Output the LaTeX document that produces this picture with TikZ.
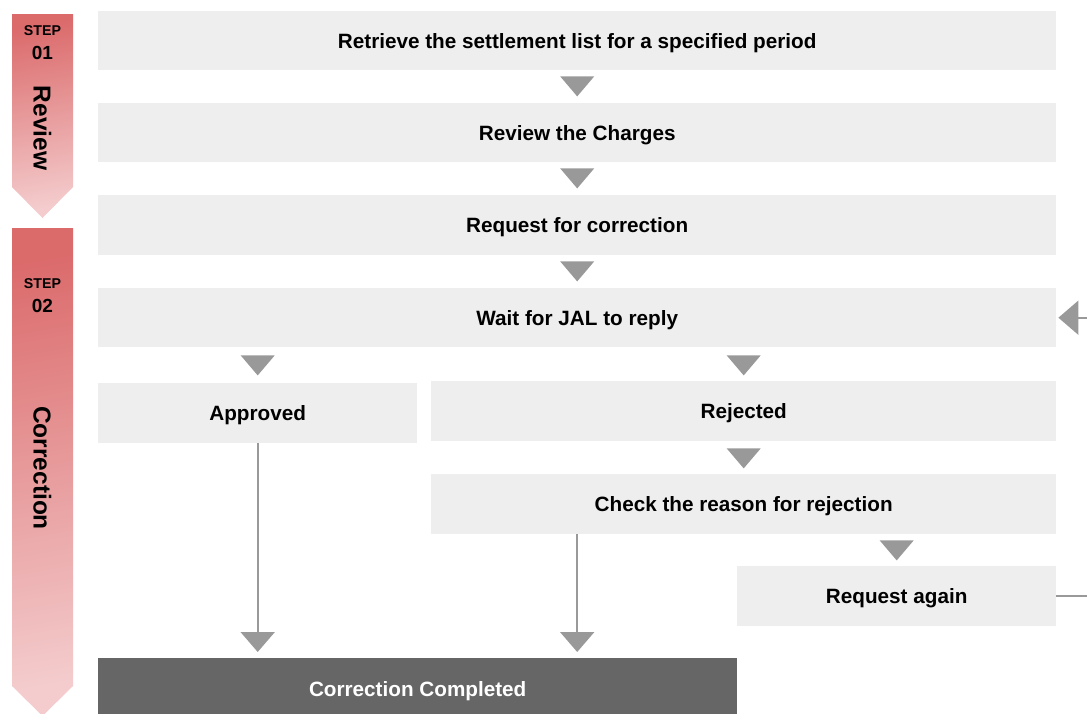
\documentclass[tikz,border=0pt]{standalone}
\usepackage{fontspec}
\setmainfont{Liberation Sans}
\usetikzlibrary{arrows.meta,calc}
\definecolor{boxgray}{HTML}{EEEEEE}
\definecolor{trigray}{HTML}{999999}
\definecolor{darkbox}{HTML}{666666}
\definecolor{bantop}{HTML}{DB6A6B}
\definecolor{banbot}{HTML}{F4CCCD}
\tikzset{
  stepbox/.style={draw=none, fill=boxgray, anchor=north west, inner sep=0pt,
    text height=14.8pt, text depth=0pt,
    font=\fontsize{20.7}{24}\selectfont\bfseries},
  donebox/.style={stepbox, fill=darkbox, text=white},
  tri/.style={fill=trigray, draw=none},
  conn/.style={draw=trigray, line width=2pt, -{Triangle[width=34pt,length=20pt,fill=trigray]}},
  steplabel/.style={font=\fontsize{14.2}{16}\selectfont\bfseries, inner sep=0pt},
  stepnum/.style={font=\fontsize{19}{22}\selectfont\bfseries, inner sep=0pt},
  phase/.style={font=\fontsize{24.5}{28}\selectfont\bfseries, inner sep=0pt, rotate=-90},
  banner/.style={top color=bantop, bottom color=banbot, shading angle=10},
}
\newcommand{\downtri}[2]{\fill[tri] ($#1+(-17,#2)$) -- ++(34,0) -- ++(-17,20) -- cycle;}
\begin{document}
\begin{tikzpicture}[x=1pt,y=-1pt]
\useasboundingbox (0,0) rectangle (1087,713);
\clip (0,0) rectangle (1087,713);
% banners
\shade[banner]
  (12,14) -- (73,14) -- (73,187) -- (42.5,218) -- (12,187) -- cycle;
\shade[banner]
  (12,228) -- (73,228) -- (73,686) -- (42.5,716) -- (12,686) -- cycle;
\node[steplabel] (s1) at (42.5,31) {STEP};
\node[stepnum] (n1) at (42.5,53) {01};
\node[phase] (p1) at (42.5,128) {Review};
\node[steplabel] (s2) at (42.5,284) {STEP};
\node[stepnum] (n2) at (42.5,306) {02};
\node[phase] (p2) at (42.5,468) {Correction};
% boxes
\node[stepbox, minimum width=958pt, minimum height=59pt] (b1) at (98,11) {Retrieve the settlement list for a specified period};
\node[stepbox, minimum width=958pt, minimum height=59pt] (b2) at (98,103) {Review the Charges};
\node[stepbox, minimum width=958pt, minimum height=60pt] (b3) at (98,195) {Request for correction};
\node[stepbox, minimum width=958pt, minimum height=59pt] (b4) at (98,288) {Wait for JAL to reply};
\node[stepbox, minimum width=319pt, minimum height=60pt] (ap) at (98,383) {Approved};
\node[stepbox, minimum width=625pt, minimum height=60pt] (rj) at (431,381) {Rejected};
\node[stepbox, minimum width=625pt, minimum height=60pt] (ck) at (431,474) {Check the reason for rejection};
\node[stepbox, minimum width=319pt, minimum height=60pt] (ra) at (737,566) {Request again};
\node[donebox, minimum width=639pt, minimum height=62pt] (cc) at (98,658) {Correction Completed};
% short triangles
\downtri{(b1.south)}{6}
\downtri{(b2.south)}{6}
\downtri{(b3.south)}{6}
\downtri{(b4.south -| ap.north)}{8}
\downtri{(b4.south -| rj.north)}{8}
\downtri{(rj.south)}{7}
\downtri{(ck.south -| ra.north)}{6}
% long connectors
\draw[conn, shorten >=6pt] (ap.south) -- (ap.south |- cc.north);
\draw[conn, shorten >=6pt] (ck.south -| b1.south) -- (b1.south |- cc.north);
% return loop
\coordinate (loopA) at ($(ra.east)+(60,0)$);
\coordinate (loopB) at ($(b4.east)+(60,0)$);
\draw[conn, shorten >=2pt] (ra.east) -- (loopA) -- (loopB) -- (b4.east);
\end{tikzpicture}
\end{document}
